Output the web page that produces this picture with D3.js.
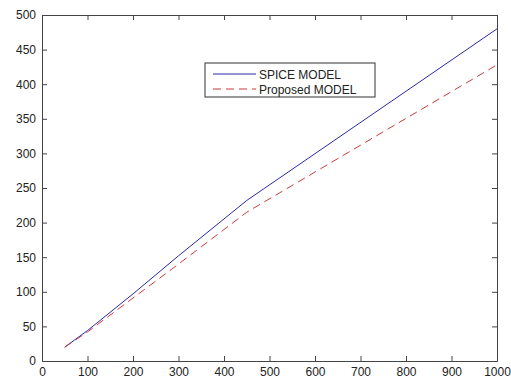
<!DOCTYPE html>
<html lang="en">
    <head>
        <meta charset="utf-8">
        <title>SPICE vs Proposed model</title>
        <script src="https://d3js.org/d3.v7.min.js"></script>
        <style type="text/css">
            body{
                margin: 0;
                background: #fff;
            }
            svg{
                display: block;
                font-family: "Liberation Sans", Arial, sans-serif;
            }
            .axis text{
                font-size: 12px;
                fill: #222;
            }
            .axis path, .axis line{
                stroke: #444;
            }
        </style>
    </head>
    <body>
        <script type="text/javascript">

        const w = 511;
        const h = 381;

        // x positions and the two series
        const xVals = [50, 100, 200, 300, 450, 1000];
        const spice = [20, 44, 97, 152, 232, 480];
        const proposed = [20, 42, 91, 140, 215, 428];

        const xTicks = [0, 100, 200, 300, 400, 500, 600, 700, 800, 900, 1000];
        const yTicks = [0, 50, 100, 150, 200, 250, 300, 350, 400, 450, 500];

        const legendNames = ["SPICE MODEL", "Proposed MODEL"];

        const margin = {left: 42, right: 14, top: 15, bottom: 20};

        const x = d3.scaleLinear()
                    .domain([0, 1000])
                    .range([margin.left, w - margin.right]);
        const y = d3.scaleLinear()
                    .domain([0, 500])
                    .range([h - margin.bottom, margin.top]);

        const svg = d3.select("body").append("svg")
                      .attr("width", w)
                      .attr("height", h);

        // axes box, ticks point inward (matlab style)
        svg.append("g")
           .attr("class", "axis")
           .attr("transform", `translate(0,${y(0)})`)
           .call(d3.axisBottom(x).tickValues(xTicks).tickFormat(d3.format("d"))
                   .tickSizeInner(-5).tickSizeOuter(0).tickPadding(6));
        svg.append("g")
           .attr("class", "axis")
           .attr("transform", `translate(${x(0)},0)`)
           .call(d3.axisLeft(y).tickValues(yTicks).tickFormat(d3.format("d"))
                   .tickSizeInner(-5).tickSizeOuter(0).tickPadding(6));
        svg.append("g")
           .attr("class", "axis")
           .attr("transform", `translate(0,${y(500)})`)
           .call(d3.axisTop(x).tickValues(xTicks).tickSizeInner(-5).tickSizeOuter(0).tickFormat(""));
        svg.append("g")
           .attr("class", "axis")
           .attr("transform", `translate(${x(1000)},0)`)
           .call(d3.axisRight(y).tickValues(yTicks).tickSizeInner(-5).tickSizeOuter(0).tickFormat(""));

        const line = d3.line()
                       .x((d, i) => x(xVals[i]))
                       .y(d => y(d));

        svg.append("path")
           .datum(spice)
           .attr("d", line)
           .attr("fill", "none")
           .attr("stroke", "#2a2aa8")
           .attr("stroke-width", 1);

        svg.append("path")
           .datum(proposed)
           .attr("d", line)
           .attr("fill", "none")
           .attr("stroke", "#d03a3a")
           .attr("stroke-width", 1)
           .attr("stroke-dasharray", "8,5");

        // legend
        const lg = svg.append("g").attr("transform", "translate(205,63)");
        lg.append("rect")
          .attr("width", 170)
          .attr("height", 34)
          .attr("fill", "#fff")
          .attr("stroke", "#333");

        const styles = [
            {stroke: "#2a2aa8", dash: null},
            {stroke: "#d03a3a", dash: "8,5"}
        ];

        legendNames.forEach((name, i) => {
            const yy = 11 + i * 15;
            lg.append("line")
              .attr("x1", 8).attr("x2", 51)
              .attr("y1", yy).attr("y2", yy)
              .attr("stroke", styles[i].stroke)
              .attr("stroke-dasharray", styles[i].dash);
            lg.append("text")
              .attr("x", 54)
              .attr("y", yy + 4.5)
              .attr("font-size", "12px")
              .attr("fill", "#222")
              .text(name);
        });

        </script>
    </body>
</html>
